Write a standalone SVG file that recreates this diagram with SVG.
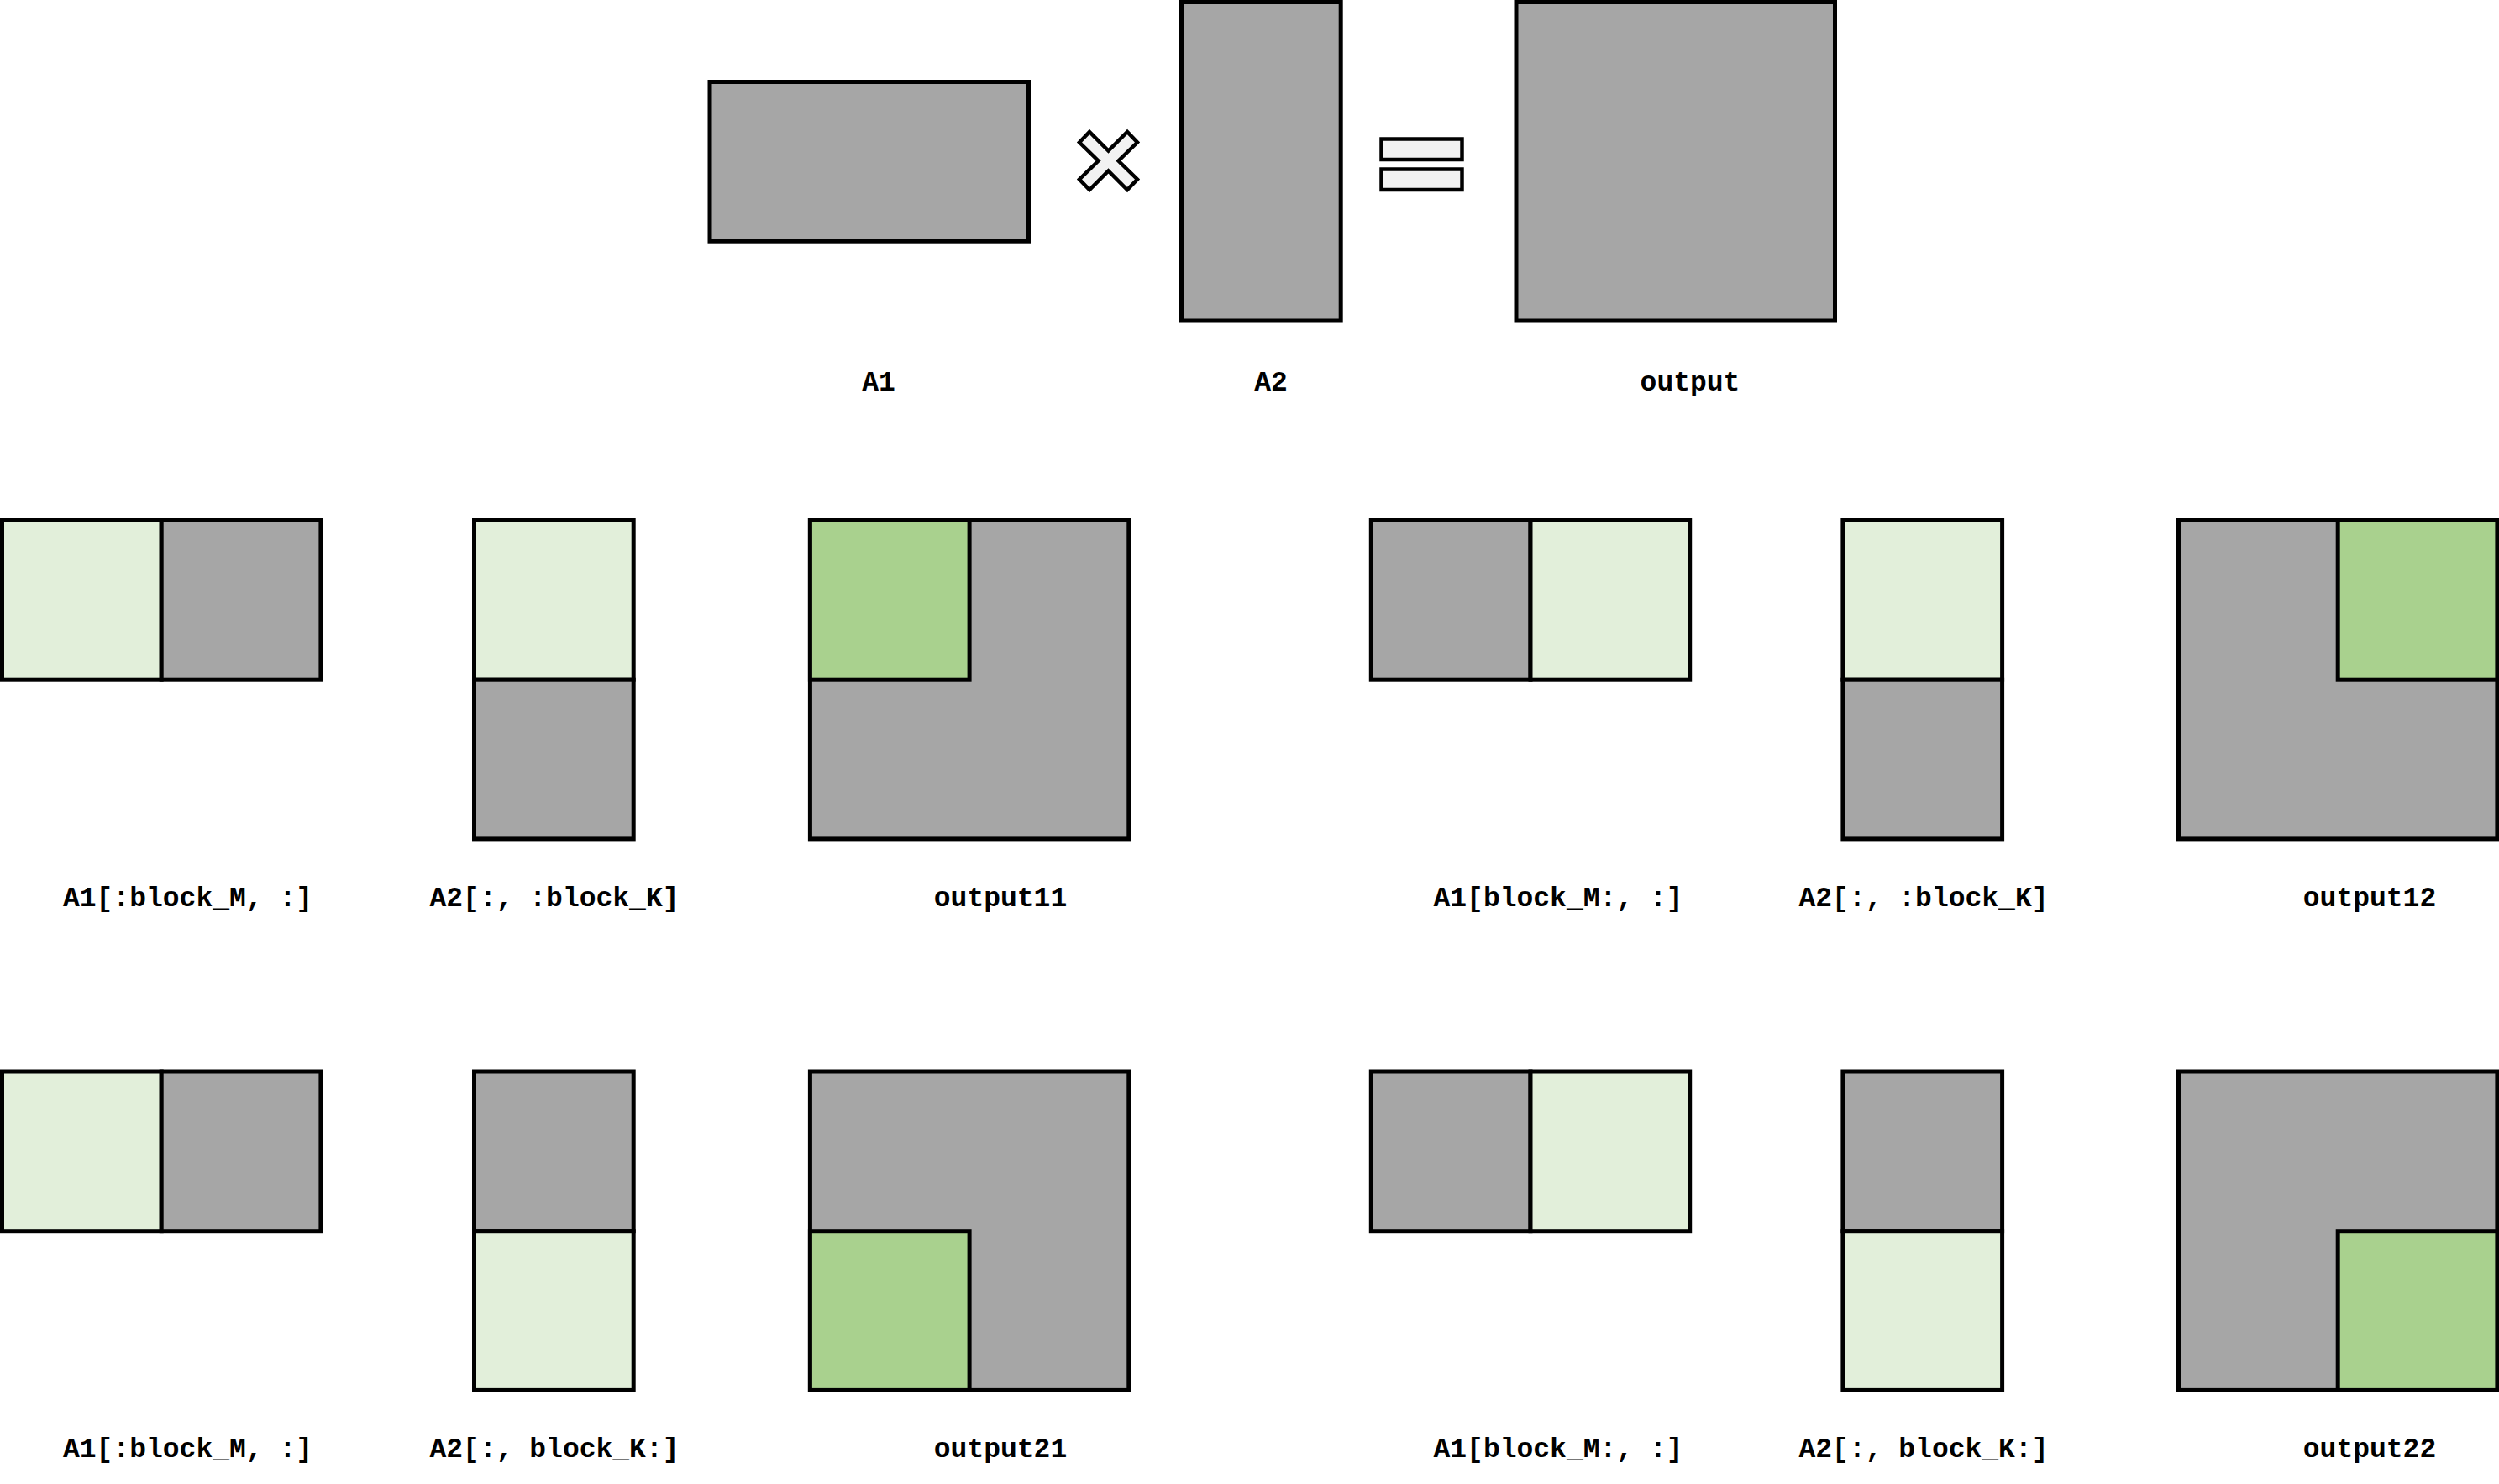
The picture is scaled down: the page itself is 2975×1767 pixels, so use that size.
<svg xmlns="http://www.w3.org/2000/svg" width="2975" height="1767" viewBox="0 0 2975 1767">
<style>
.g{fill:#a6a6a6;stroke:#000;stroke-width:5}
.l{fill:#e2efda;stroke:#000;stroke-width:5}
.d{fill:#a9d18e;stroke:#000;stroke-width:5}
.m{fill:#f2f2f2;stroke:#000;stroke-width:4.5}
text{font-family:"Liberation Mono","DejaVu Sans Mono",monospace;font-weight:bold;font-size:33px;fill:#000;text-anchor:middle}
</style>
<rect width="2975" height="1767" fill="#fff"/>
<g id="top-A1"><rect class="g" x="845" y="97.5" width="379.5" height="189.7"/></g>
<g id="times"><polygon class="m" points="1285,169.5 1297,157 1319.5,179.5 1342,157 1354,169.5 1331.5,191.5 1354,213.5 1342,226 1319.5,203.5 1297,226 1285,213.5 1307.5,191.5"/></g>
<g id="top-A2"><rect class="g" x="1406.5" y="2.5" width="189.7" height="379.5"/></g>
<g id="equals"><rect class="m" x="1644.5" y="165.5" width="96" height="24.5"/><rect class="m" x="1644.5" y="201.5" width="96" height="24.5"/></g>
<g id="top-output"><rect class="g" x="1805" y="2.5" width="379.5" height="379.5"/></g>
<g id="labels-top">
<text x="1046" y="465">A1</text>
<text x="1513" y="465">A2</text>
<text x="2012" y="465">output</text>
</g>

<g id="r2-A1a"><rect class="l" x="2.5" y="619.5" width="189.7" height="189.7"/><rect class="g" x="192.2" y="619.5" width="189.7" height="189.7"/></g>
<g id="r2-A2a"><rect class="l" x="564.5" y="619.5" width="189.7" height="189.7"/><rect class="g" x="564.5" y="809.2" width="189.7" height="189.7"/></g>
<g id="r2-out11"><rect class="g" x="964.4" y="619.5" width="379.4" height="379.4"/><rect class="d" x="964.4" y="619.5" width="189.7" height="189.7"/></g>
<g id="r2-A1b"><rect class="g" x="1632.3" y="619.5" width="189.7" height="189.7"/><rect class="l" x="1822" y="619.5" width="189.7" height="189.7"/></g>
<g id="r2-A2b"><rect class="l" x="2193.9" y="619.5" width="189.7" height="189.7"/><rect class="g" x="2193.9" y="809.2" width="189.7" height="189.7"/></g>
<g id="r2-out12"><rect class="g" x="2593.5" y="619.5" width="379.4" height="379.4"/><rect class="d" x="2783.2" y="619.5" width="189.7" height="189.7"/></g>
<g id="labels-r2">
<text x="223.5" y="1079">A1[:block_M, :]</text>
<text x="660" y="1079">A2[:, :block_K]</text>
<text x="1191" y="1079">output11</text>
<text x="1855" y="1079">A1[block_M:, :]</text>
<text x="2290" y="1079">A2[:, :block_K]</text>
<text x="2821" y="1079">output12</text>
</g>

<g id="r3-A1a"><rect class="l" x="2.5" y="1276" width="189.7" height="189.7"/><rect class="g" x="192.2" y="1276" width="189.7" height="189.7"/></g>
<g id="r3-A2a"><rect class="g" x="564.5" y="1276" width="189.7" height="189.7"/><rect class="l" x="564.5" y="1465.7" width="189.7" height="189.7"/></g>
<g id="r3-out21"><rect class="g" x="964.4" y="1276" width="379.4" height="379.4"/><rect class="d" x="964.4" y="1465.7" width="189.7" height="189.7"/></g>
<g id="r3-A1b"><rect class="g" x="1632.3" y="1276" width="189.7" height="189.7"/><rect class="l" x="1822" y="1276" width="189.7" height="189.7"/></g>
<g id="r3-A2b"><rect class="g" x="2193.9" y="1276" width="189.7" height="189.7"/><rect class="l" x="2193.9" y="1465.7" width="189.7" height="189.7"/></g>
<g id="r3-out22"><rect class="g" x="2593.5" y="1276" width="379.4" height="379.4"/><rect class="d" x="2783.2" y="1465.7" width="189.7" height="189.7"/></g>
<g id="labels-r3">
<text x="223.5" y="1735">A1[:block_M, :]</text>
<text x="660" y="1735">A2[:, block_K:]</text>
<text x="1191" y="1735">output21</text>
<text x="1855" y="1735">A1[block_M:, :]</text>
<text x="2290" y="1735">A2[:, block_K:]</text>
<text x="2821" y="1735">output22</text>
</g>
</svg>
